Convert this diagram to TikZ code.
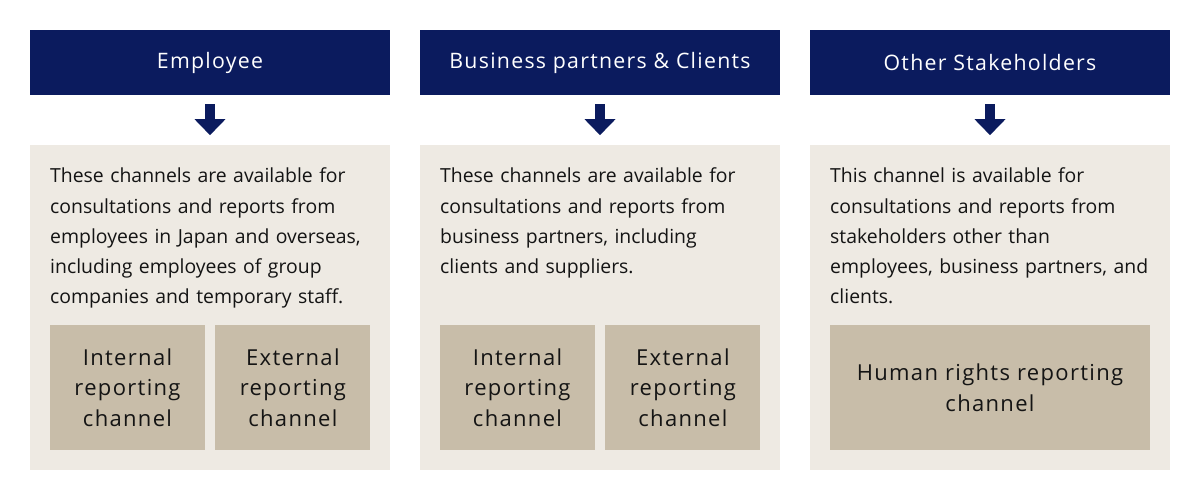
\documentclass[tikz,border=0pt]{standalone}
\usepackage{fontspec}
\setmainfont{Open Sans}
\newfontfamily\widefont[LetterSpace=6]{Open Sans}
\usetikzlibrary{arrows.meta,positioning}

\definecolor{navy}{HTML}{0B1B5E}
\definecolor{paper}{HTML}{EEEAE3}
\definecolor{sand}{HTML}{C8BDA9}
\definecolor{ink}{HTML}{141414}

\begin{document}
\begin{tikzpicture}
            [x=1pt, y=-1pt, node distance=50pt,
            header/.style={rectangle, fill=navy, text=white, minimum width=360pt, minimum height=65pt, inner sep=0pt, font=\widefont\fontsize{21.3}{24}\selectfont},
            panel/.style={rectangle, fill=paper, minimum width=360pt, minimum height=325pt, inner sep=0pt},
            blurb/.style={anchor=north west, align=left, text width=340pt, inner sep=0pt, text=ink, font=\fontsize{19.4}{30.2}\selectfont},
            channel/.style={rectangle, fill=sand, minimum height=125pt, inner sep=0pt, align=center, text=ink, font=\widefont\fontsize{22}{30.5}\selectfont},
            down/.style={-{Triangle[width=30pt,length=16pt]}, line width=10pt, draw=navy, shorten <=9pt, shorten >=10pt}]

            \useasboundingbox (0,0) rectangle (1200,500);

            % headers
            \node[header] (empl) at (210,62.5) {Employee};
            \node[header] (partner) at (600,62.5) {Business partners \& Clients};
            \node[header] (other) at (990,62.5) {Other Stakeholders};

            % panels
            \node[panel] (emplbox) [below = of empl] {};
            \node[panel] (partnerbox) [below = of partner] {};
            \node[panel] (otherbox) [below = of other] {};

            \draw[down] (empl) -- (emplbox);
            \draw[down] (partner) -- (partnerbox);
            \draw[down] (other) -- (otherbox);

            % texts
            \node[blurb] (empltext) at (50,167.8) {These channels are available for\\consultations and reports from\\employees in Japan and overseas,\\including employees of group\\companies and temporary staff.};
            \node[blurb] (partnertext) at (440,167.8) {These channels are available for\\consultations and reports from\\business partners, including\\clients and suppliers.};
            \node[blurb] (othertext) at (830,167.8) {This channel is available for\\consultations and reports from\\stakeholders other than\\employees, business partners, and\\clients.};

            % channels
            \node[channel, minimum width=155pt] (emplint) at (127.5,387.5) {Internal\\reporting\\channel};
            \node[channel, minimum width=155pt] (emplext) [right = 10pt of emplint] {External\\reporting\\channel};
            \node[channel, minimum width=155pt] (partnerint) at (517.5,387.5) {Internal\\reporting\\channel};
            \node[channel, minimum width=155pt] (partnerext) [right = 10pt of partnerint] {External\\reporting\\channel};
            \node[channel, minimum width=320pt] (human) at (990,387.5) {Human rights reporting\\channel};

          \end{tikzpicture}
\end{document}
